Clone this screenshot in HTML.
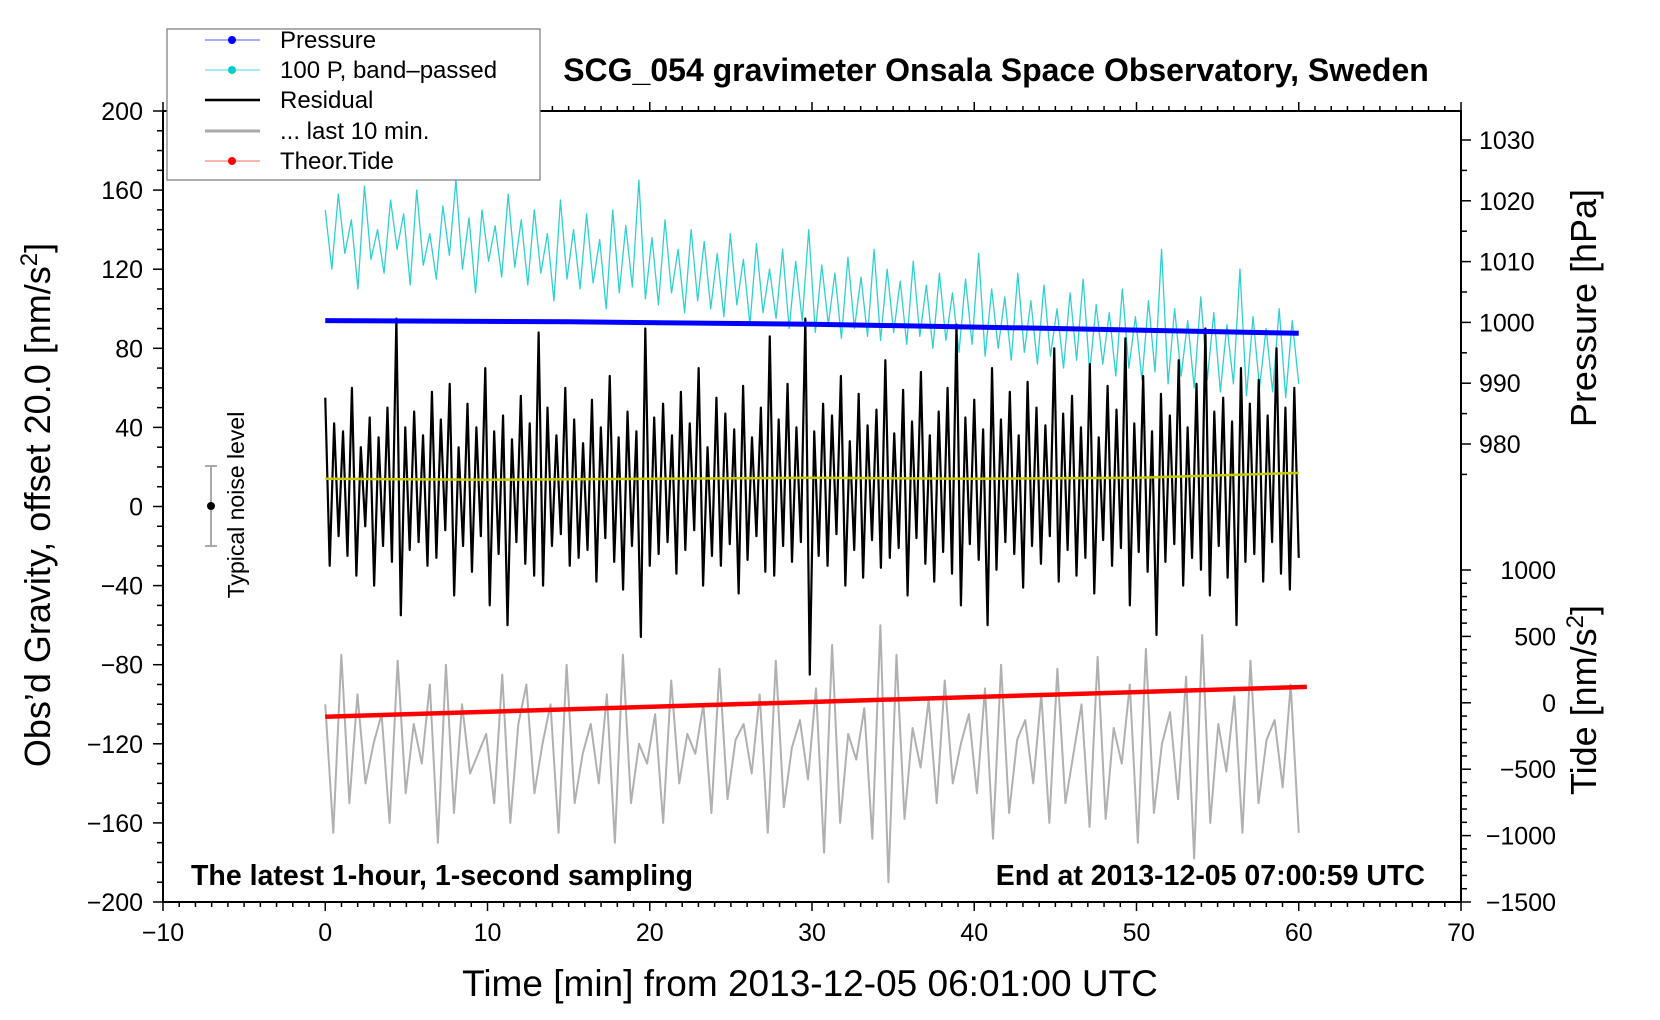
<!DOCTYPE html>
<html><head><meta charset="utf-8"><style>
body{margin:0;background:#fff}
svg{display:block;font-family:"Liberation Sans",Arial,sans-serif}
</style></head><body>
<svg id="c" width="1660" height="1020" viewBox="0 0 1660 1020">
<rect x="0" y="0" width="1660" height="1020" fill="#fff"/>
<g id="plot"></g>
<g id="axes"></g>
<text x="996" y="81" font-size="32" font-weight="bold" text-anchor="middle">SCG_054 gravimeter Onsala Space Observatory, Sweden</text>
<text x="191" y="885" font-size="28.5" font-weight="bold">The latest 1-hour, 1-second sampling</text>
<text x="1425" y="885" font-size="28.5" font-weight="bold" text-anchor="end">End at 2013-12-05 07:00:59 UTC</text>
<text x="810" y="996" font-size="37" text-anchor="middle">Time [min] from 2013-12-05 06:01:00 UTC</text>
<text transform="translate(50,505) rotate(-90)" font-size="36" text-anchor="middle">Obs’d Gravity, offset 20.0 [nm/s<tspan baseline-shift="super" font-size="24">2</tspan>]</text>
<text transform="translate(1596,308) rotate(-90)" font-size="36" text-anchor="middle">Pressure [hPa]</text>
<text transform="translate(1596,700) rotate(-90)" font-size="36" text-anchor="middle">Tide [nm/s<tspan baseline-shift="super" font-size="24">2</tspan>]</text>
<g>
<line x1="211" y1="466" x2="211" y2="546" stroke="#aaa" stroke-width="2"/>
<line x1="205" y1="466" x2="217" y2="466" stroke="#aaa" stroke-width="2"/>
<line x1="205" y1="546" x2="217" y2="546" stroke="#aaa" stroke-width="2"/>
<circle cx="211" cy="506" r="4" fill="#000"/>
<text transform="translate(244,505) rotate(-90)" font-size="23" text-anchor="middle">Typical noise level</text>
</g>
<g>
<rect x="167" y="29" width="373" height="151" fill="#fff" stroke="#777" stroke-width="1.2"/>
<g><line x1="205" y1="40" x2="260" y2="40" stroke="#55f" stroke-width="1"/><circle cx="232" cy="40" r="4" fill="#00f"/><text x="280" y="48" font-size="24">Pressure</text></g>
<g><line x1="205" y1="70" x2="260" y2="70" stroke="#4dd" stroke-width="1"/><circle cx="232" cy="70" r="4" fill="#0cc"/><text x="280" y="78" font-size="24">100 P, band–passed</text></g>
<g><line x1="205" y1="100" x2="260" y2="100" stroke="#000" stroke-width="2.5"/><text x="280" y="108" font-size="24">Residual</text></g>
<g><line x1="205" y1="131" x2="260" y2="131" stroke="#aaa" stroke-width="3"/><text x="280" y="139" font-size="24">... last 10 min.</text></g>
<g><line x1="205" y1="161" x2="260" y2="161" stroke="#f66" stroke-width="1"/><circle cx="232" cy="161" r="4" fill="#f00"/><text x="280" y="169" font-size="24">Theor.Tide</text></g>
</g>
</svg>
<script>
const residual=[55,-30,42,-15,38,-25,60,-35,30,-10,45,-40,35,-20,50,-28,95,-55,40,-22,48,-18,36,-30,58,-26,44,-12,62,-45,30,-20,52,-33,40,-15,70,-50,38,-24,46,-60,34,-18,56,-29,42,-35,88,-40,50,-20,36,-14,60,-30,44,-26,32,-22,
54,-38,40,-16,66,-28,35,-42,48,-20,38,-66,90,-30,45,-24,52,-18,36,-34,58,-22,42,-12,70,-40,30,-25,55,-30,47,-19,39,-44,61,-27,35,-15,50,-33,
86,-35,44,-20,62,-28,40,-18,95,-85,38,-25,52,-30,46,-14,66,-40,33,-22,57,-36,41,-17,49,-31,74,-26,37,-21,59,-45,43,-16,68,-29,36,-38,48,-23,
60,-34,92,-50,45,-19,54,-27,39,-60,70,-32,44,-18,58,-24,36,-41,63,-20,50,-29,41,-15,80,-38,47,-22,56,-35,40,-26,72,-44,35,-17,61,-30,49,-21,
85,-50,42,-23,66,-33,38,-65,57,-28,46,-19,74,-40,40,-26,62,-32,90,-45,48,-20,55,-36,43,-60,70,-28,52,-24,64,-38,46,-18,80,-34,50,-42,60,-26];
const bandpassed=[150,120,158,128,145,110,162,125,140,118,155,130,148,112,160,122,138,115,152,127,165,120,146,108,150,124,142,116,158,121,
145,112,150,118,138,104,155,115,140,110,148,113,135,100,150,108,142,111,165,105,136,102,145,108,130,98,140,104,134,100,
128,96,138,102,125,92,133,98,120,95,130,90,124,94,140,88,122,92,118,85,126,90,116,86,130,84,120,88,114,82,
124,86,112,80,118,84,108,78,115,82,128,76,110,80,106,74,118,78,104,72,112,76,100,70,108,74,115,68,102,72,
98,66,110,70,96,64,104,68,130,62,100,66,94,60,106,64,98,58,92,62,120,56,96,60,90,58,100,55,94,62];
const last10=[-100,-165,-75,-150,-95,-140,-120,-105,-160,-78,-145,-110,-130,-90,-170,-80,-155,-100,-135,-125,-115,-150,-85,-160,-110,-90,-145,-120,-100,-165,-80,-150,-125,-110,-140,-95,-170,-75,-150,-120,-130,-105,-160,-88,-140,-115,-125,-100,-155,-82,-148,-118,-110,-135,-95,-165,-78,-152,-122,-108,-138,-92,-175,-70,-160,-115,-128,-102,-168,-60,-190,-75,-158,-112,-132,-98,-150,-88,-140,-120,-105,-145,-92,-168,-80,-155,-118,-108,-140,-95,-160,-82,-150,-125,-100,-162,-76,-158,-112,-130,-90,-170,-72,-155,-120,-104,-148,-86,-178,-65,-160,-110,-134,-96,-165,-78,-150,-118,-108,-142,-90,-165];
const meanTimes=[0,10,20,30,40,50,60];
const meanValues=[14,13.5,14,14.5,14,14.5,17];
const pressureTimes=[0,15,30,45,60];
const pressureValues=[1000.3,1000.1,999.7,999.0,998.2];
const tideTimes=[0,60.5];
const tideValues=[-105,120];
const xTicks=[-10,0,10,20,30,40,50,60,70];
const yTicks=[200,160,120,80,40,0,-40,-80,-120,-160,-200];
const pTicks=[980,990,1000,1010,1020,1030];
const tTicks=[1000,500,0,-500,-1000,-1500];

const X0=163,X1=1461,YT=111,YB=902;
const xs=t=>X0+(t+10)/80*(X1-X0);
const ys=v=>YB-(v+200)/400*(YB-YT);
const ps=p=>444-(p-980)*6.08;
const ts=v=>YB-(v+1500)/2500*332;
const NS='http://www.w3.org/2000/svg';
const plot=document.getElementById('plot'),axes=document.getElementById('axes');
function el(tag,attrs,parent){const e=document.createElementNS(NS,tag);for(const k in attrs)e.setAttribute(k,attrs[k]);parent.appendChild(e);return e;}
function poly(times,vals,scale,stroke,w,name){
  const pts=vals.map((v,i)=>xs(times(i))+','+scale(v).toFixed(1)).join(' ');
  const p=el('polyline',{points:pts,fill:'none',stroke:stroke,'stroke-width':w,'stroke-linejoin':'round'},plot);
  
  
}
poly(i=>i*60/(bandpassed.length-1),bandpassed,ys,'#30d0d0',1.3,'bandpassed-pressure-line');
poly(i=>i*60/(residual.length-1),residual,ys,'#000',2.2,'residual-line');
poly(i=>meanTimes[i],meanValues,ys,'#c8c800',2.5,'residual-mean-line');
poly(i=>i*60/(last10.length-1),last10,ys,'#b0b0b0',2,'last-10-min-line');
poly(i=>pressureTimes[i],pressureValues,ps,'#0000ff',5,'pressure-line');
poly(i=>tideTimes[i],tideValues,ts,'#ff0000',4.5,'theor-tide-line');

const fr=el('rect',{x:X0,y:YT,width:X1-X0,height:YB-YT,fill:'none',stroke:'#000','stroke-width':2},axes);


for(let t=-10;t<=70;t++){const L=(t%10===0)?9:5;const x=xs(t);
 el('line',{x1:x,y1:YB,x2:x,y2:YB+L,stroke:'#000','stroke-width':1.5},axes);
 el('line',{x1:x,y1:YT,x2:x,y2:YT-L,stroke:'#000','stroke-width':1.5},axes);}
xTicks.forEach(t=>{const e=el('text',{x:xs(t),y:YB+39,'font-size':25,'text-anchor':'middle'},axes);e.textContent=String(t).replace('-','−');
 
 });
for(let v=-200;v<=200;v+=10){const L=(v%40===0)?10:6;el('line',{x1:X0,y1:ys(v),x2:X0-L,y2:ys(v),stroke:'#000','stroke-width':1.5},axes);}
yTicks.forEach(v=>{const e=el('text',{x:X0-20,y:ys(v)+9,'font-size':25,'text-anchor':'end'},axes);e.textContent=String(v).replace('-','−');
 
 });
for(let p=975;p<=1035;p+=5){const y=ps(p);if(y<YT||y>480)continue;const L=(p%10===0)?10:6;el('line',{x1:X1,y1:y,x2:X1+L,y2:y,stroke:'#000','stroke-width':1.5},axes);}
pTicks.forEach(p=>{const e=el('text',{x:X1+18,y:ps(p)+9,'font-size':25},axes);e.textContent=String(p);
 
 });
for(let v=-1500;v<=1000;v+=100){const L=(v%500===0)?10:6;el('line',{x1:X1,y1:ts(v),x2:X1+L,y2:ts(v),stroke:'#000','stroke-width':1.5},axes);}
tTicks.forEach(v=>{const e=el('text',{x:1556,y:ts(v)+9,'font-size':25,'text-anchor':'end'},axes);e.textContent=String(v).replace('-','−');
 
 });
</script>
</body></html>
